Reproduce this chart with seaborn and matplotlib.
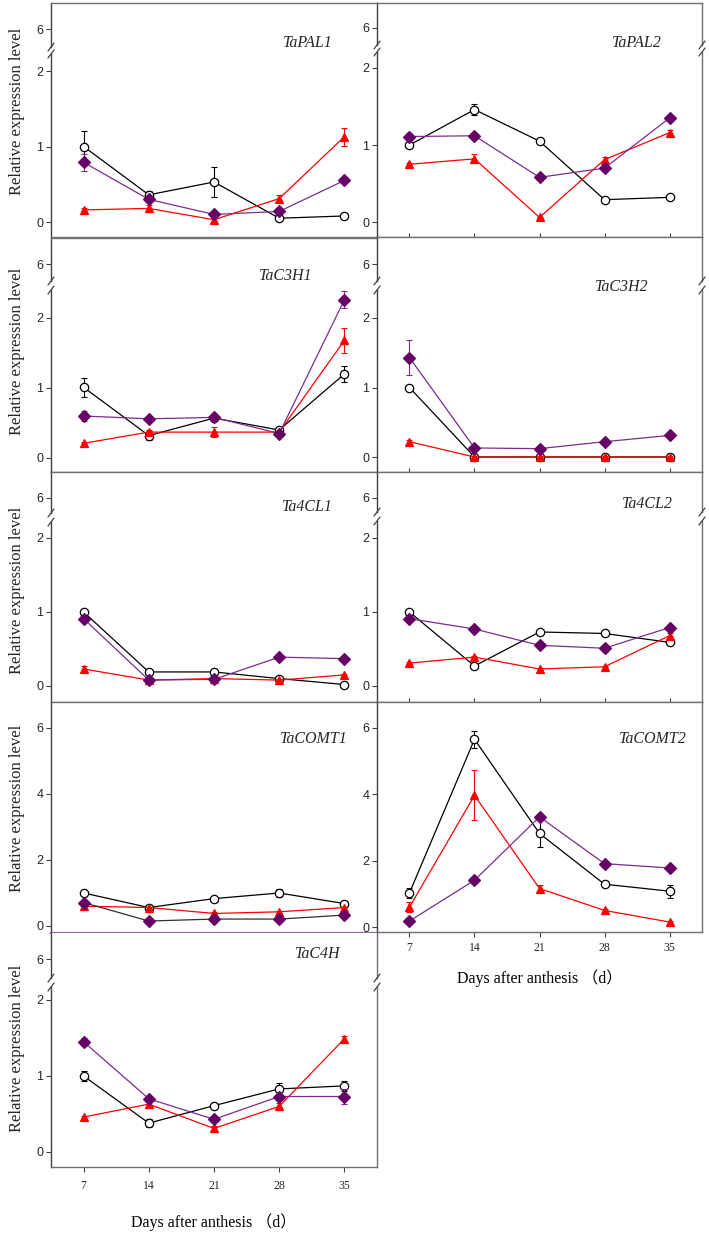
import numpy as np
import pandas as pd
import matplotlib
matplotlib.use("Agg")
import matplotlib.pyplot as plt
from matplotlib.lines import Line2D
import seaborn as sns

sns.set_theme(style="white")
plt.rcParams["font.family"] = ["Liberation Sans", "DejaVu Sans"]

W, H = 709, 1234
SERIF = ["Liberation Serif", "Noto Sans CJK SC", "DejaVu Serif"]

# ---- data ----
DAYS = [7, 14, 21, 28, 35]
SERIES = ["circle", "triangle", "diamond"]
GENES = ["TaPAL1", "TaC3H1", "Ta4CL1", "TaCOMT1", "TaC4H",
         "TaPAL2", "TaC3H2", "Ta4CL2", "TaCOMT2"]
XLABEL = "Days after anthesis （d）"
YLABEL = "Relative expression level"

TaPAL1_MEAN = [[1.00, 0.36, 0.53, 0.05, 0.08], [0.16, 0.18, 0.03, 0.31, 1.13], [0.79, 0.30, 0.10, 0.14, 0.55]]
TaPAL1_ERR = [[0.20, 0.05, 0.20, 0.01, 0.01], [0.02, 0.05, 0.02, 0.05, 0.12], [0.11, 0.03, 0.02, 0.02, 0.02]]

TaPAL2_MEAN = [[1.00, 1.46, 1.05, 0.29, 0.32], [0.75, 0.82, 0.06, 0.81, 1.16], [1.11, 1.12, 0.58, 0.70, 1.35]]
TaPAL2_ERR = [[0.03, 0.07, 0.04, 0.01, 0.02], [0.02, 0.06, 0.01, 0.03, 0.03], [0.04, 0.03, 0.02, 0.02, 0.03]]

TaC3H1_MEAN = [[1.01, 0.32, 0.57, 0.40, 1.20], [0.21, 0.37, 0.37, 0.37, 1.68], [0.60, 0.56, 0.58, 0.35, 2.26]]
TaC3H1_ERR = [[0.14, 0.06, 0.02, 0.02, 0.12], [0.02, 0.03, 0.07, 0.02, 0.18], [0.07, 0.03, 0.05, 0.02, 0.12]]

TaC3H2_MEAN = [[1.00, 0.00, 0.00, 0.00, 0.00], [0.22, 0.00, 0.00, 0.00, 0.00], [1.43, 0.13, 0.12, 0.22, 0.31]]
TaC3H2_ERR = [[0.01, 0.00, 0.00, 0.00, 0.00], [0.03, 0.01, 0.01, 0.01, 0.01], [0.25, 0.02, 0.02, 0.02, 0.02]]

Ta4CL1_MEAN = [[1.00, 0.19, 0.19, 0.10, 0.02], [0.23, 0.08, 0.10, 0.08, 0.15], [0.91, 0.08, 0.09, 0.39, 0.37]]
Ta4CL1_ERR = [[0.02, 0.01, 0.01, 0.01, 0.01], [0.04, 0.02, 0.01, 0.01, 0.01], [0.03, 0.02, 0.02, 0.03, 0.02]]

Ta4CL2_MEAN = [[1.00, 0.27, 0.73, 0.71, 0.59], [0.31, 0.39, 0.23, 0.26, 0.68], [0.91, 0.77, 0.55, 0.51, 0.79]]
Ta4CL2_ERR = [[0.02, 0.01, 0.01, 0.01, 0.01], [0.01, 0.02, 0.01, 0.01, 0.04], [0.04, 0.01, 0.04, 0.05, 0.02]]

TaCOMT1_MEAN = [[1.00, 0.56, 0.83, 1.00, 0.68], [0.60, 0.56, 0.38, 0.43, 0.56], [0.71, 0.15, 0.21, 0.21, 0.33]]
TaCOMT1_ERR = [[0.05, 0.03, 0.03, 0.12, 0.05], [0.04, 0.03, 0.03, 0.03, 0.03], [0.05, 0.02, 0.02, 0.02, 0.03]]

TaCOMT2_MEAN = [[1.03, 5.66, 2.82, 1.29, 1.08], [0.60, 3.97, 1.16, 0.50, 0.15], [0.18, 1.41, 3.32, 1.91, 1.78]]
TaCOMT2_ERR = [[0.15, 0.25, 0.40, 0.05, 0.20], [0.15, 0.75, 0.12, 0.03, 0.03], [0.03, 0.05, 0.08, 0.05, 0.10]]

TaC4H_MEAN = [[1.00, 0.38, 0.61, 0.83, 0.87], [0.46, 0.63, 0.31, 0.60, 1.49], [1.45, 0.70, 0.43, 0.73, 0.73]]
TaC4H_ERR = [[0.07, 0.05, 0.02, 0.08, 0.07], [0.02, 0.03, 0.03, 0.05, 0.03], [0.05, 0.02, 0.02, 0.02, 0.10]]

MEANS = {"TaPAL1": TaPAL1_MEAN, "TaPAL2": TaPAL2_MEAN, "TaC3H1": TaC3H1_MEAN,
         "TaC3H2": TaC3H2_MEAN, "Ta4CL1": Ta4CL1_MEAN, "Ta4CL2": Ta4CL2_MEAN,
         "TaCOMT1": TaCOMT1_MEAN, "TaCOMT2": TaCOMT2_MEAN, "TaC4H": TaC4H_MEAN}
ERRS = {"TaPAL1": TaPAL1_ERR, "TaPAL2": TaPAL2_ERR, "TaC3H1": TaC3H1_ERR,
        "TaC3H2": TaC3H2_ERR, "Ta4CL1": Ta4CL1_ERR, "Ta4CL2": Ta4CL2_ERR,
        "TaCOMT1": TaCOMT1_ERR, "TaCOMT2": TaCOMT2_ERR, "TaC4H": TaC4H_ERR}

rows = []
for g in GENES:
    for si, s in enumerate(SERIES):
        for di, d in enumerate(DAYS):
            rows.append({"gene": g, "series": s, "day": d,
                         "value": MEANS[g][si][di], "err": ERRS[g][si][di]})
df = pd.DataFrame(rows)

# ---- layout in pixels: col, top, y(6), break top, break bottom, y(2), y(0), bottom ----
COLS = {"left": (51, 377), "right": (377, 702)}
LAYOUT = {
    "TaPAL1": ("left", 3, 29, 47, 54, 71, 222, 237),
    "TaC3H1": ("left", 238, 264, 281, 290, 318, 458, 472),
    "Ta4CL1": ("left", 472, 498, 513, 522, 538, 686, 702),
    "TaCOMT1": ("left", 702, 728, None, None, None, 926, 933),
    "TaC4H": ("left", 933, 959, 978, 987, 1000, 1152, 1167),
    "TaPAL2": ("right", 3, 28, 45, 52, 68, 222, 237),
    "TaC3H2": ("right", 237, 264, 281, 290, 318, 457, 472),
    "Ta4CL2": ("right", 472, 498, 512, 521, 538, 686, 702),
    "TaCOMT2": ("right", 702, 728, None, None, None, 927, 932),
}
TITLE_POS = {"TaPAL1": (333, 43), "TaPAL2": (662, 43), "TaC3H1": (312, 276),
             "TaC3H2": (648, 287), "Ta4CL1": (333, 507), "Ta4CL2": (673, 504),
             "TaCOMT1": (348, 739), "TaCOMT2": (687, 739), "TaC4H": (340, 954)}
YLABEL_Y = [111, 351, 590, 808, 1048]
XLABEL_POS = [(540, 978), (214, 1222)]

STYLE = {
    "circle": dict(color="black", marker="o", mfc="white", mec="black", ecol="black", z=3),
    "triangle": dict(color="#ff0000", marker="^", mfc="#ff0000", mec="#ff0000", ecol="#ff0000", z=4),
    "diamond": dict(color="#7b2d8e", marker="D", mfc="#660066", mec="#660066", ecol="#7b2d8e", z=5),
}
SPINE = "#707070"
XLIM = (3.5, 38.5)

fig = plt.figure(figsize=(W / 100, H / 100), dpi=100)
fig.patch.set_facecolor("white")


def rect(x0, x1, ytop, ybot):
    return [x0 / W, 1 - ybot / H, (x1 - x0) / W, (ybot - ytop) / H]


def brk(x, y):
    fig.add_artist(Line2D([(x - 3) / W, (x + 3) / W], [1 - (y + 4) / H, 1 - (y - 4) / H],
                          color="#404040", lw=0.9))


def style(ax, show):
    ax.set_facecolor("white")
    for side in ["left", "right", "top", "bottom"]:
        ax.spines[side].set_visible(side in show)
        ax.spines[side].set_color(SPINE)
        ax.spines[side].set_linewidth(1.0)
    ax.spines["left"].set_color("#404040")
    ax.set_xlim(*XLIM)
    ax.tick_params(axis="y", direction="out", length=3.5, width=0.8, color="#404040",
                   labelsize=9, pad=2, left=True)
    ax.tick_params(axis="x", bottom=False, labelbottom=False)
    ax.grid(False)


def draw(ax, gene, purple_line=None):
    for s in SERIES:
        st = STYLE[s]
        sub = df[(df.gene == gene) & (df.series == s)]
        eb = ax.errorbar(sub["day"], sub["value"], yerr=sub["err"], fmt="none",
                         ecolor=st["ecol"], elinewidth=0.8, capsize=2.5, capthick=0.8,
                         zorder=st["z"])
        for a in list(eb[1]) + list(eb[2]):
            a.set_clip_on(False)
        lc = st["color"] if (s != "diamond" or purple_line is None) else purple_line
        sns.lineplot(data=sub, x="day", y="value", ax=ax, color=lc, lw=0.9,
                     marker=st["marker"], markersize=6, markerfacecolor=st["mfc"],
                     markeredgecolor=st["mec"], markeredgewidth=0.9,
                     zorder=st["z"], clip_on=False, legend=False)
    ax.set_xlabel("")
    ax.set_ylabel("")


def bottom_ticks(ax, pad):
    ax.set_xticks(DAYS)
    ax.tick_params(axis="x", bottom=True, labelbottom=True, direction="out",
                   length=3.5, width=0.8, color="#404040", pad=pad)
    ax.set_xticklabels(DAYS, fontfamily=SERIF, fontsize=8.5)


for gene in GENES:
    col, top, y6, b0, b1, y2, y0, bottom = LAYOUT[gene]
    x0, x1 = COLS[col]
    right_spine = col == "right" or gene == "TaC4H"
    if b0 is None:
        ax = fig.add_axes(rect(x0, x1, top, bottom))
        s = (y0 - y6) / 6.0
        ax.set_ylim(-(bottom - y0) / s, 6 + (y6 - top) / s)
        show = ["left", "top", "bottom"] + (["right"] if right_spine else [])
        style(ax, show)
        ax.set_yticks([0, 2, 4, 6])
        draw(ax, gene, purple_line="#303030" if gene == "TaCOMT1" else None)
        if gene == "TaCOMT1":
            ax.spines["bottom"].set_color("#8b6b9e")
            ax.spines["bottom"].set_linewidth(1.6)
        if gene == "TaCOMT2":
            bottom_ticks(ax, 4)
    else:
        s = (y0 - y2) / 2.0
        up = fig.add_axes(rect(x0, x1, top, b0))
        lo = fig.add_axes(rect(x0, x1, b1, bottom))
        up.set_ylim(6 - (b0 - y6) / s, 6 + (y6 - top) / s)
        lo.set_ylim(-(bottom - y0) / s, 2 + (y2 - b1) / s)
        up_show = ["left"] + (["top"] if gene != "TaC4H" else []) + (["right"] if right_spine else [])
        lo_show = ["left", "bottom"] + (["right"] if right_spine else [])
        style(up, up_show)
        style(lo, lo_show)
        up.set_yticks([6])
        lo.set_yticks([0, 1, 2])
        draw(lo, gene)
        brk(x0, b0)
        brk(x0, b1)
        if right_spine:
            brk(x1, b0)
            brk(x1, b1)
        if col == "right":
            lo.set_xticks(DAYS)
            lo.tick_params(axis="x", bottom=True, labelbottom=False, direction="in",
                           length=3, width=0.8, color="#404040")
        if gene == "TaC4H":
            bottom_ticks(lo, 6)
    tx, ty = TITLE_POS[gene]
    fig.text(tx / W, 1 - ty / H, gene, ha="right", va="center", fontstyle="italic",
             fontfamily=SERIF, fontsize=11.5, zorder=10)

for yc in YLABEL_Y:
    fig.text(17 / W, 1 - yc / H, YLABEL, rotation=90,
             ha="center", va="center", fontfamily=SERIF, fontsize=12)

for xc, yc in XLABEL_POS:
    fig.text(xc / W, 1 - yc / H, XLABEL, ha="center", va="center",
             fontfamily=SERIF, fontsize=11.5, color="black")

fig.savefig("out.png", dpi=100, facecolor="white")
